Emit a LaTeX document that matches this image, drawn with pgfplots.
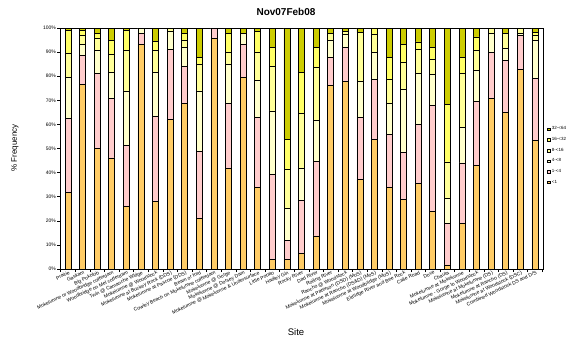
\documentclass[border=0pt]{standalone}
\usepackage{fontspec}
\setmainfont{Liberation Sans}
\usepackage{pgfplots}
\usepackage{pgfplotstable}
\pgfplotsset{compat=1.18}
\definecolor{cOr}{HTML}{FFCC66}
\definecolor{cPk}{HTML}{FFCCCC}
\definecolor{cCr}{HTML}{FFFFCC}
\definecolor{cLy}{HTML}{FFFF99}
\definecolor{cYe}{HTML}{FFFF66}
\definecolor{cOl}{HTML}{CCCC00}
\pgfplotstableread{
x a b c d e f
0 31.8 30.7 17.1 9.7 9.6 1.1
1 76.7 11.9 4.5 3.8 2.0 1.1
2 50.0 31.0 9.7 5.1 2.1 2.1
3 46.1 24.7 10.9 7.2 6.0 5.1
4 25.8 25.5 22.6 16.8 8.2 1.1
5 93.1 4.8 2.1 0 0 0
6 28.2 35.0 18.5 9.0 3.7 5.6
7 62.2 29.0 7.4 1.4 0 0
8 68.8 15.2 8.1 2.8 3.0 2.1
9 20.9 28.0 25.0 11.1 2.9 12.1
10 95.8 4.2 0 0 0 0
11 41.9 26.9 16.2 5.0 7.9 2.1
12 79.6 13.5 4.8 0 0 2.1
13 33.8 29.1 15.3 11.8 8.6 1.4
14 3.9 35.5 26.2 18.4 8.1 7.9
15 3.9 8.0 13.2 16.1 12.7 46.1
16 6.3 22.1 13.5 22.7 17.1 18.3
17 13.7 31.0 17.1 21.8 8.5 7.9
18 76.0 11.9 7.0 3.0 0 2.1
19 77.8 14.3 5.1 1.4 0 1.4
20 37.0 25.9 15.1 20.1 0 1.9
21 53.9 24.9 11.2 7.2 2.8 0
22 33.8 22.0 13.0 10.0 9.1 12.1
23 28.9 19.3 26.4 11.2 7.3 6.9
24 35.6 24.4 21.2 10.0 3.0 5.8
25 24.0 43.8 13.0 6.0 5.3 7.9
26 1.7 17.2 10.4 15.1 23.9 31.7
27 18.9 25.1 14.8 22.2 6.9 12.1
28 42.9 26.8 12.7 8.3 5.6 3.7
29 70.8 19.2 7.9 2.1 0 0
30 65.0 21.5 5.2 6.2 0 2.1
31 82.9 14.0 1.0 2.1 0 0
32 53.5 25.5 16.0 2.0 1.0 2.0
}\data
\begin{document}
\begin{tikzpicture}[x=1pt,y=1pt]
\path[use as bounding box] (0,0) rectangle (577,346);
\begin{axis}[at={(60pt,77pt)}, anchor=south west, scale only axis,
  width=483pt, height=241pt,
  ybar stacked, bar width=6pt,
  xmin=-0.55, xmax=32.55, ymin=0, ymax=100,
  axis line style={black, line width=0.7pt},
  tick align=outside, tick pos=left,
  major tick length=3pt,
  ytick={0,10,...,100},
  yticklabel={\pgfmathprintnumber{\tick}\%},
  /pgf/number format/assume math mode=true,
  yticklabel style={font=\fontsize{5}{6}\selectfont, inner sep=1pt},
  ytick style={black, line width=0.5pt},
  xtick={-0.5,0.5,...,32.5},
  xticklabels={},
  xtick style={black, line width=0.5pt},
  extra x ticks={0,1,...,32},
  extra x tick style={major tick length=0pt},
  extra x tick labels={Prairie,Gaskam,Big Pokolob,Mokelumne or Woodbridge cofferdam,Woodbridge on Mel cofferdam,Twin @ Camanche Wldge,Mokelumne @ Woodstock,Mokelumne at Buckey Rock (DDS),Mokelumne at Pascoe (DDS),Beam or ford,Cowley Beach on Mokelumne cofferdam,Mokelumne @ Gorge,Mokelumne @ Dorsey Dam,Mokelumne @ Mokelumne \& Undersurface,Little Potato,Hadley Gin,Rocky River,Dad River,Rolling River,Rancho @ Woodstock,Mokelumne at Paterson (DSD) (MoS),Mokelumne at Rancho (DS\&D) (MoS),Mokelumne at Woodbridge (MoS),Eldridge River and Bee Rock,Calle Road,Dove,Chauta,Mokelumne at Mokelumne,Mokelumne - Gorge to Woodstock,Mokelumne at Mokelumne (DS),Mokelumne at Rancho (DS),Mokelumne at Woodstock (DSC),Combined Woodstock DS and D/S},
  xticklabel style={font=\fontsize{5}{5}\selectfont, rotate=25, anchor=north east, inner sep=0pt, yshift=-1.5pt},
  reverse legend,
  legend style={at={(1.008,0.47)}, anchor=west, draw=none, fill=none,
    font=\fontsize{4.5}{5}\selectfont, row sep=2pt, inner sep=0pt,
    legend cell align=left},
  legend image code/.code={\draw[#1, draw=black, line width=0.3pt] (0pt,-1.3pt) rectangle (2.6pt,1.3pt);},
  every axis plot/.append style={draw=black, line width=0.7pt},
]
\addplot[fill=cOr] table[x=x,y=a]{\data};
\addplot[fill=cPk] table[x=x,y=b]{\data};
\addplot[fill=cCr] table[x=x,y=c]{\data};
\addplot[fill=cLy] table[x=x,y=d]{\data};
\addplot[fill=cYe] table[x=x,y=e]{\data};
\addplot[fill=cOl] table[x=x,y=f]{\data};
\legend{<1,1-<4,4-<8,8-<16,16-<32,32-<64}
\end{axis}
\node[font=\bfseries\fontsize{10}{12}\selectfont] at (286,334) {Nov07Feb08};
\node[font=\fontsize{8}{9}\selectfont, rotate=90] at (15,198) {\% Frequency};
\node[font=\fontsize{9.5}{11}\selectfont] at (296,14) {Site};
\end{tikzpicture}
\end{document}
